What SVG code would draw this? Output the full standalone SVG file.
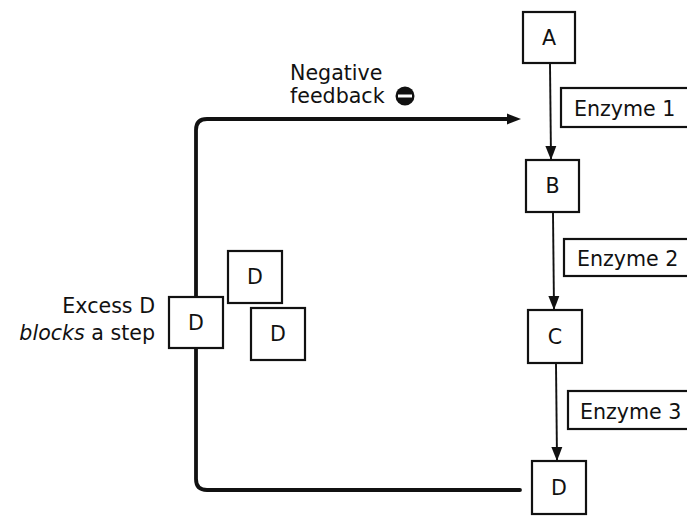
<svg xmlns="http://www.w3.org/2000/svg" width="687" height="516" viewBox="0 0 687 516">
<style>
.box{fill:#fff;stroke:#111;stroke-width:2.2}
.lbl{font-family:"DejaVu Sans",Verdana,sans-serif;font-size:20.6px;fill:#111}
.c{text-anchor:middle}
.r{text-anchor:end}
.ln{fill:none;stroke:#111;stroke-width:1.9}
.fb{fill:none;stroke:#111;stroke-width:3.8;stroke-linecap:round}
</style>
<defs>
<marker id="ah" markerUnits="userSpaceOnUse" markerWidth="14" markerHeight="14" viewBox="0 0 14 14" refX="13" refY="7" orient="auto">
<path d="M0,1.5 L14,7 L0,12.5 Z" fill="#111"/>
</marker>
</defs>
<rect width="687" height="516" fill="#fff"/>
<g id="connectors">
<path class="fb" d="M520,490 L207,490 Q196,490 196,479 L196,130 Q196,119 207,119 L510,119"/>
<path d="M507,113.5 L521,119 L507,124.5 Z" fill="#111"/>
<line class="ln" x1="550" y1="64" x2="551" y2="159" marker-end="url(#ah)"/>
<line class="ln" x1="553" y1="213" x2="554" y2="309" marker-end="url(#ah)"/>
<line class="ln" x1="556" y1="364" x2="557" y2="460" marker-end="url(#ah)"/>
</g>
<g id="nodeA"><rect class="box" x="523" y="12" width="52" height="51"/><text class="lbl c" x="549" y="45">A</text></g>
<g id="nodeB"><rect class="box" x="526" y="160" width="53" height="52"/><text class="lbl c" x="552.5" y="193">B</text></g>
<g id="nodeC"><rect class="box" x="528" y="310" width="54" height="53"/><text class="lbl c" x="555" y="344">C</text></g>
<g id="nodeD"><rect class="box" x="532" y="461" width="54" height="53"/><text class="lbl c" x="559" y="495">D</text></g>
<g id="enzyme1"><rect class="box" x="561" y="88" width="128" height="39"/><text class="lbl" x="574" y="116">Enzyme 1</text></g>
<g id="enzyme2"><rect class="box" x="564" y="239" width="128" height="37"/><text class="lbl" x="577" y="266">Enzyme 2</text></g>
<g id="enzyme3"><rect class="box" x="568" y="391" width="124" height="38"/><text class="lbl" x="580" y="419">Enzyme 3</text></g>
<g id="feedbackLabel">
<text class="lbl" x="290" y="80">Negative</text>
<text class="lbl" x="290" y="103">feedback</text>
<circle cx="405" cy="96" r="9.5" fill="#111"/>
<rect x="398" y="94.5" width="14" height="3" fill="#fff"/>
</g>
<g id="dBlock"><rect class="box" x="169" y="297" width="54" height="51"/><text class="lbl c" x="196" y="330">D</text></g>
<g id="dFree1"><rect class="box" x="228" y="251" width="54" height="52"/><text class="lbl c" x="255" y="284">D</text></g>
<g id="dFree2"><rect class="box" x="251" y="308" width="54" height="52"/><text class="lbl c" x="278" y="341">D</text></g>
<g id="excessLabel">
<text class="lbl r" x="155" y="313">Excess D</text>
<text class="lbl r" x="155" y="340"><tspan font-style="italic">blocks</tspan> a step</text>
</g>
</svg>
